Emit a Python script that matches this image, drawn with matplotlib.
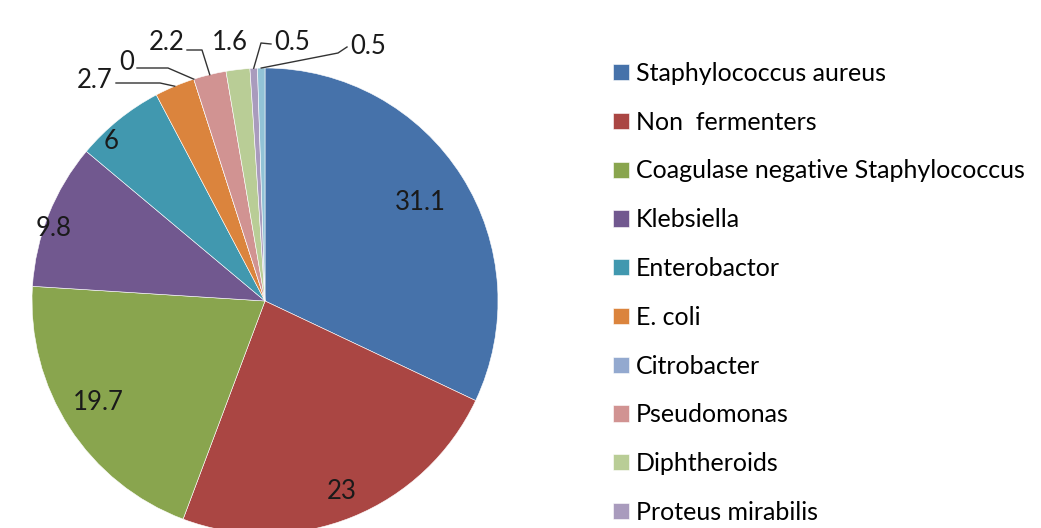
import matplotlib.pyplot as plt
import numpy as np

# data
names = ['Staphylococcus aureus', 'Non  fermenters', 'Coagulase negative Staphylococcus',
         'Klebsiella', 'Enterobactor', 'E. coli', 'Citrobacter', 'Pseudomonas',
         'Diphtheroids', 'Proteus mirabilis', '']
values = [31.1, 23, 19.7, 9.8, 6, 2.7, 0, 2.2, 1.6, 0.5, 0.5]
value_labels = ['31.1', '23', '19.7', '9.8', '6', '2.7', '0', '2.2', '1.6', '0.5', '0.5']
colors = ['#4672AA', '#AA4643', '#89A54E', '#71588F', '#4198AF', '#DB843D',
          '#93A9CF', '#D19392', '#B9CD96', '#A99BBD', '#92C3D6']

plt.rcParams['font.family'] = ['Lato', 'DejaVu Sans']

W, H = 1041, 528
fig = plt.figure(figsize=(W / 100, H / 100), dpi=100)

# pie axes: centre (265, 301) px, radius 233 px
cx, cy, r = 265, 301, 233
ax = fig.add_axes([(cx - r) / W, (H - cy - r) / H, 2 * r / W, 2 * r / H])
wedges, _ = ax.pie(values, colors=colors, startangle=90, counterclock=False,
                   wedgeprops=dict(edgecolor='white', linewidth=0.4))
ax.set_xlim(-1, 1)
ax.set_ylim(-1, 1)
ax.axis('off')

fs = 18.5

# inside labels (radius, angle tweak)
inside = {0: (0.79, 0), 1: (0.88, 0), 2: (0.84, -1.5), 3: (0.96, 3), 4: (0.95, 5)}
for i, (rr, dth) in inside.items():
    w = wedges[i]
    th = np.deg2rad((w.theta1 + w.theta2) / 2 + dth)
    ax.text(rr * np.cos(th), rr * np.sin(th), value_labels[i], ha='center', va='center',
            fontsize=fs, color='#1a1a1a')


def px(x, y):
    return ((x - cx) / r, (cy - y) / r)


# outside labels: text position, elbow point, text alignment
outside = {
    5: ((113, 80), (160, 83), 'right'),
    6: ((134, 63), (168, 68), 'right'),
    7: ((184, 43), (202, 50), 'right'),
    8: ((230, 43), None, 'center'),
    9: ((274, 43), (261, 43), 'left'),
    10: ((350, 46), (338, 53), 'left'),
}
for i, (tp, elbow, ha) in outside.items():
    w = wedges[i]
    th = np.deg2rad((w.theta1 + w.theta2) / 2)
    tip = (np.cos(th), np.sin(th))
    tx, ty = px(*tp)
    ax.text(tx, ty, value_labels[i], ha=ha, va='center', fontsize=fs, color='#1a1a1a')
    if elbow is not None:
        if ha == 'right':
            start = px(tp[0] + 3, tp[1] + 3)
        else:
            start = px(tp[0] - 3, tp[1] + 1)
        ex, ey = px(*elbow)
        ax.plot([start[0], ex, tip[0]], [ey if ha == 'right' else start[1], ey, tip[1]],
                color='#333333', lw=1.0, clip_on=False)

# legend
fig.legend(wedges[:10], names[:10], loc='upper left', bbox_to_anchor=(603 / W, 1 - 52 / H),
           frameon=False, fontsize=18, handlelength=0.62, handleheight=0.62,
           handletextpad=0.28, labelspacing=1.03, borderaxespad=0)

fig.savefig('out.png', dpi=100)
